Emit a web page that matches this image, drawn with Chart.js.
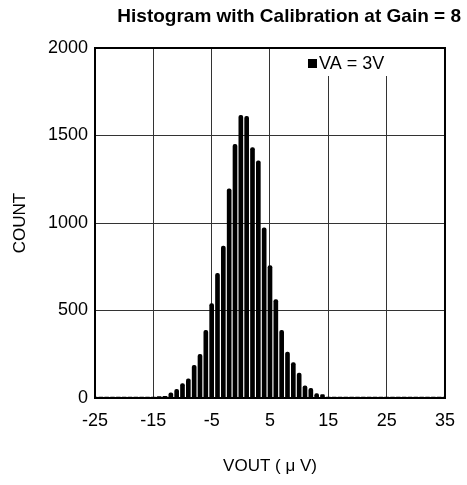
<!DOCTYPE html>
<html>
<head>
<meta charset="utf-8">
<script src="https://cdn.jsdelivr.net/npm/chart.js@4/dist/chart.umd.min.js"></script>
<style>
  html, body { margin: 0; padding: 0; background: #fff; }
  #wrap { width: 467px; height: 485px; }
</style>
</head>
<body>
<div id="wrap"><canvas id="chart" width="467" height="485"></canvas></div>
<script>
// histogram bins (VOUT in uV) and counts
const vout = [-25, -24, -23, -22, -21, -20, -19, -18, -17, -16, -15, -14, -13, -12, -11, -10,
  -9, -8, -7, -6, -5, -4, -3, -2, -1, 0, 1, 2, 3, 4, 5, 6, 7, 8, 9, 10, 11, 12, 13, 14,
  15, 16, 17, 18, 19, 20, 21, 22, 23, 24, 25, 26, 27, 28, 29, 30, 31, 32, 33, 34, 35];
const counts = [0, 0, 0, 0, 0, 0, 0, 0, 0, 0, 0, 8, 10, 30, 50, 82,
  109, 187, 250, 387, 540, 712, 868, 1195, 1450, 1615, 1609, 1431, 1355, 973, 756, 563, 387, 263, 202, 143, 69, 55, 25, 19,
  0, 0, 0, 0, 0, 0, 0, 0, 0, 0, 0, 0, 0, 0, 0, 0, 0, 0, 0, 0, 0];
const xTicks = [-25, -15, -5, 5, 15, 25, 35];
const yTicks = [0, 500, 1000, 1500, 2000];
const seriesLabel = 'VA = 3V';
const chartTitle = 'Histogram with Calibration at Gain = 8';

const FONT = '"Liberation Sans", Arial, sans-serif';

const frameAndLegend = {
  id: 'frameAndLegend',
  beforeDatasetsDraw(chart) {
    const { ctx, chartArea: a } = chart;
    ctx.save();
    // legend box covers the grid in the top right corner
    ctx.fillStyle = '#fff';
    ctx.fillRect(a.right - 150, a.top, 150, 28);
    ctx.fillStyle = '#000';
    ctx.fillRect(a.right - 137, a.top + 11, 9, 9);
    ctx.font = '18px ' + FONT;
    ctx.textBaseline = 'middle';
    ctx.textAlign = 'left';
    ctx.fillText(chart.data.datasets[0].label, a.right - 126, a.top + 16);
    ctx.restore();
  },
  afterDraw(chart) {
    const { ctx, chartArea: a } = chart;
    ctx.save();
    ctx.strokeStyle = '#000';
    ctx.lineWidth = 2;
    ctx.strokeRect(a.left, a.top, a.right - a.left, a.bottom - a.top);
    ctx.fillStyle = '#000';
    ctx.font = 'bold 19px ' + FONT;
    ctx.textAlign = 'right';
    ctx.textBaseline = 'middle';
    ctx.fillText(chartTitle, a.right + 16, 17);
    ctx.restore();
  }
};

new Chart(document.getElementById('chart'), {
  type: 'bar',
  data: {
    datasets: [{
      label: seriesLabel,
      data: vout.map((v, i) => ({ x: v, y: counts[i] })),
      backgroundColor: '#000',
      barThickness: 4,
      minBarLength: 1,
      borderRadius: { topLeft: 2, topRight: 2 },
      borderSkipped: 'bottom'
    }]
  },
  options: {
    responsive: false,
    animation: false,
    layout: { padding: { top: 48, right: 18, left: 0, bottom: 0 } },
    plugins: { legend: { display: false }, tooltip: { enabled: false } },
    scales: {
      x: {
        type: 'linear',
        min: -25, max: 35,
        offset: false,
        afterBuildTicks: s => { s.ticks = xTicks.map(v => ({ value: v })); },
        afterFit: s => { s.height = 87; },
        grid: { offset: false, color: '#333', lineWidth: 1, drawTicks: false },
        border: { display: false },
        ticks: { padding: 12, color: '#000', font: { family: FONT, size: 18 }, maxRotation: 0, callback: v => String(v) },
        title: { display: true, text: 'VOUT ( μ V)', color: '#000', font: { family: FONT, size: 17 }, padding: { bottom: 8 } }
      },
      y: {
        min: 0, max: 2000,
        afterBuildTicks: s => { s.ticks = yTicks.map(v => ({ value: v })); },
        afterFit: s => { s.width = 95; },
        grid: { color: '#333', lineWidth: 1, drawTicks: false },
        border: { display: false },
        ticks: { padding: 7, color: '#000', font: { family: FONT, size: 18 }, callback: v => String(v) },
        title: { display: true, text: 'COUNT', color: '#000', font: { family: FONT, size: 17 }, padding: { top: 10 } }
      }
    }
  },
  plugins: [frameAndLegend]
});
</script>
</body>
</html>
